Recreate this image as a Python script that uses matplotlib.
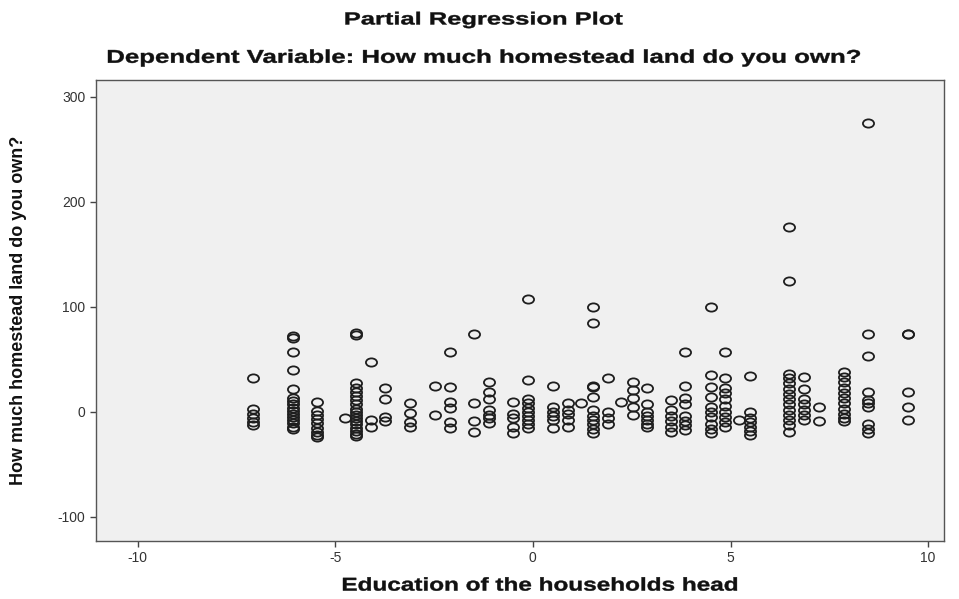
import numpy as np
import matplotlib
matplotlib.use("Agg")
import matplotlib.pyplot as plt
from matplotlib.path import Path
from matplotlib.transforms import Affine2D
from matplotlib.textpath import TextPath
from matplotlib.patches import PathPatch
from matplotlib.font_manager import FontProperties

plt.rcParams['font.family'] = ['Liberation Sans', 'DejaVu Sans']
plt.rcParams['axes.unicode_minus'] = False

# Partial residuals: education of head (x) and homestead land owned (y), grouped by x column
x_cols = [-7.08, -6.07, -5.46, -4.75, -4.48, -4.1, -3.74, -3.11, -2.48, -2.1,
          -1.49, -1.11, -0.5, -0.12, 0.5, 0.88, 1.22, 1.52, 1.9, 2.23,
          2.53, 2.88, 3.49, 3.86, 4.5, 4.87, 5.21, 5.49, 6.47, 6.86,
          7.24, 7.86, 8.47, 9.48]
y_cols = [
    [32, 3, -2, -6, -10, -13],
    [72, 70, 57, 40, 22, 13, 10, 7, 4, 1, -2, -5, -8, -11, -14, -16],
    [9, 1, -3, -7, -11, -15, -19, -22, -24],
    [-6],
    [75, 73, 27, 23, 19, 15, 11, 7, 3, 0, -3, -6, -9, -12, -15, -18, -21, -23],
    [47, -8, -14],
    [23, 12, -5, -9],
    [8, -1, -10, -14],
    [25, -3],
    [57, 24, 9, 4, -10, -15],
    [74, 8, -9, -19],
    [28, 19, 12, 2, -3, -6, -11],
    [9, -2, -6, -14, -20],
    [107, 30, 12, 8, 4, 0, -4, -8, -12, -15],
    [25, 5, 0, -4, -8, -15],
    [8, 2, -2, -8, -14],
    [8],
    [100, 85, 25, 24, 14, 2, -4, -8, -12, -16, -20],
    [32, 0, -6, -12],
    [9],
    [28, 21, 13, 5, -3],
    [23, 7, 0, -4, -8, -12, -14],
    [11, 2, -4, -9, -14, -19],
    [57, 25, 13, 7, -4, -9, -13, -17],
    [100, 35, 24, 14, 5, 0, -5, -12, -16, -20],
    [57, 32, 23, 18, 12, 6, 0, -5, -10, -14],
    [-8],
    [34, 0, -6, -10, -14, -18, -22],
    [176, 125, 36, 32, 27, 22, 17, 12, 7, 2, -3, -8, -13, -19],
    [33, 22, 12, 7, 2, -3, -8],
    [5, -9],
    [38, 33, 28, 23, 18, 13, 8, 3, -2, -6, -9],
    [275, 74, 53, 19, 11, 8, 5, -12, -16, -20],
    [74, 74, 19, 5, -8],
]

title = 'Partial Regression Plot'
subtitle = 'Dependent Variable: How much homestead land do you own?'
x_label = 'Education of the households head'
y_label = 'How much homestead land do you own?'

x_vals = np.concatenate([[xc] * len(yc) for xc, yc in zip(x_cols, y_cols)])
y_vals = np.concatenate(y_cols)

W, H = 959, 599
bold = FontProperties(family='Liberation Sans', weight='bold')


def wide_text(fig, s, cx, cy, width, size):
    # bold text drawn as a path, stretched horizontally to a given pixel width
    tp = TextPath((0, 0), s, size=size, prop=bold)
    bb = tp.get_extents()
    tr = (Affine2D()
          .translate(-(bb.x0 + bb.width / 2), -(bb.y0 + bb.height / 2))
          .scale(width / bb.width, 1)
          .translate(cx, H - cy))
    fig.add_artist(PathPatch(tp, transform=tr, facecolor='#111111',
                             edgecolor='#111111', linewidth=0.3))


# slightly flattened open circle, like the SPSS marker
ellipse = Path.unit_circle().transformed(Affine2D().scale(1.35, 1.0))

fig = plt.figure(figsize=(W / 100, H / 100), dpi=100)
ax = fig.add_axes([96 / W, 1 - 541 / H, 848 / W, 461 / H])
ax.set_facecolor('#f0f0f0')

ax.plot(x_vals, y_vals, linestyle='none', marker=ellipse, markersize=8,
        markerfacecolor='none', markeredgecolor='#1e1e1e', markeredgewidth=1.3)

ax.set_xlim(-11.05, 10.4)
ax.set_ylim(-123, 316)
ax.set_xticks([-10, -5, 0, 5, 10])
ax.set_yticks([-100, 0, 100, 200, 300])
ax.tick_params(direction='out', length=4, width=1, colors='#444444',
               labelsize=10, labelcolor='#333333')
for sp in ax.spines.values():
    sp.set_color('#555555')
    sp.set_linewidth(1)

ax.set_ylabel(y_label, fontsize=13, fontweight='bold', labelpad=22,
              color='#111111')

wide_text(fig, title, 484, 20, 277, 17.5)
wide_text(fig, subtitle, 484, 58, 752, 18.5)
wide_text(fig, x_label, 540, 584, 394, 18.5)

fig.savefig('out.png', dpi=100)
